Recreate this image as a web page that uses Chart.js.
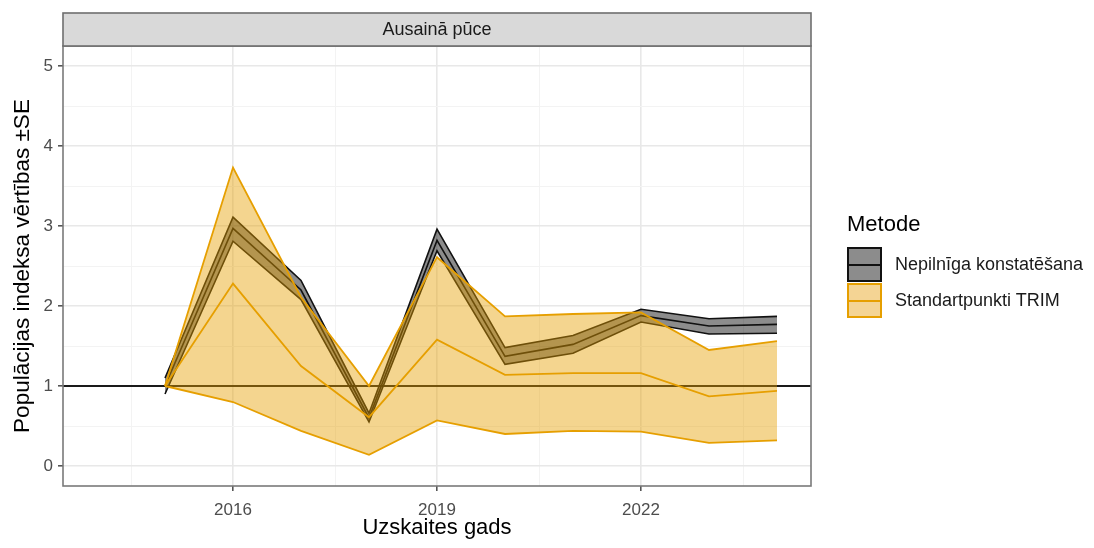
<!DOCTYPE html>
<html>
<head>
<meta charset="utf-8">
<script src="https://cdn.jsdelivr.net/npm/chart.js@4.4.1/dist/chart.umd.min.js"></script>
<style>
  html, body { margin: 0; padding: 0; background: #fff; }
  #wrap { position: relative; width: 1094px; height: 548px; font-family: "Liberation Sans", Arial, sans-serif; }
  #c { position: absolute; left: 0; top: 0; }
  .lg-title { position: absolute; left: 847px; top: 211px; font-size: 22px; line-height: 26px; color: #000; }
  .lg-key { position: absolute; left: 847px; width: 35px; height: 35px; box-sizing: border-box; }
  .lg-key .mid { position: absolute; left: 0; right: 0; top: 50%; height: 0; margin-top: -1px; }
  .lg-label { position: absolute; left: 895px; font-size: 18px; line-height: 22px; color: #1a1a1a; white-space: nowrap; }
</style>
</head>
<body>
<div id="wrap">
  <canvas id="c" width="1094" height="548"></canvas>
  <div class="lg-title">Metode</div>
  <div class="lg-key" style="top:247px;background:#8c8c8c;border:2px solid #111;"><div class="mid" style="border-top:2px solid #111;"></div></div>
  <div class="lg-label" style="top:253px;">Nepilnīga konstatēšana</div>
  <div class="lg-key" style="top:283px;background:#f4d494;border:2px solid #e69f00;"><div class="mid" style="border-top:2px solid #e69f00;"></div></div>
  <div class="lg-label" style="top:289px;">Standartpunkti TRIM</div>
</div>
<script>
// Survey years
const years = [2015, 2016, 2017, 2018, 2019, 2020, 2021, 2022, 2023, 2024];

// Index ±SE, method "Nepilnīga konstatēšana"
const nepMid   = [1.00, 2.97, 2.20, 0.60, 2.82, 1.37, 1.52, 1.88, 1.75, 1.77];
const nepLower = [0.90, 2.81, 2.08, 0.55, 2.69, 1.27, 1.41, 1.80, 1.65, 1.66];
const nepUpper = [1.10, 3.11, 2.32, 0.66, 2.96, 1.48, 1.63, 1.96, 1.84, 1.87];

// Index ±SE, method "Standartpunkti TRIM"
const trimMid   = [1.00, 2.28, 1.25, 0.61, 1.58, 1.14, 1.16, 1.16, 0.87, 0.94];
const trimLower = [1.00, 0.80, 0.44, 0.14, 0.57, 0.40, 0.44, 0.43, 0.29, 0.32];
const trimUpper = [1.00, 3.73, 2.11, 1.00, 2.61, 1.87, 1.90, 1.92, 1.45, 1.56];

// Axis breaks
const xBreaks = [2016, 2019, 2022];
const yBreaks = [0, 1, 2, 3, 4, 5];
const baseline = 1;

const xMin = 2013.5, xMax = 2024.5;
const yMin = -0.25, yMax = 5.25;

const pts = (vals) => years.map((y, i) => ({ x: y, y: vals[i] }));

// minor grid positions halfway between breaks
const xStep = xBreaks[1] - xBreaks[0];
const xMinor = [xBreaks[0] - xStep / 2];
xBreaks.forEach(b => xMinor.push(b + xStep / 2));
const yMinor = [];
for (let i = 0; i < yBreaks.length - 1; i++) yMinor.push((yBreaks[i] + yBreaks[i + 1]) / 2);

const isMajorX = v => xBreaks.some(b => Math.abs(b - v) < 1e-6);
const isMajorY = v => yBreaks.some(b => Math.abs(b - v) < 1e-6);

const ORANGE = '#e69f00';
const ORANGE_FILL = 'rgba(230,159,0,0.44)';
const BLACK = '#111111';
const GREY_FILL = 'rgba(0,0,0,0.45)';

const lineBase = { pointRadius: 0, pointHoverRadius: 0, tension: 0, fill: false };

const datasets = [
  // TRIM (top layer)
  { ...lineBase, label: 'Standartpunkti TRIM', data: pts(trimMid), borderColor: ORANGE, borderWidth: 1.8, order: 1 },
  { ...lineBase, label: 'TRIM upper', data: pts(trimUpper), borderColor: ORANGE, borderWidth: 1.8, order: 1 },
  { ...lineBase, label: 'TRIM lower', data: pts(trimLower), borderColor: ORANGE, borderWidth: 1.8, order: 1,
    fill: { target: 1 }, backgroundColor: ORANGE_FILL },
  // Nepilnīga konstatēšana (middle layer)
  { ...lineBase, label: 'Nepilnīga konstatēšana', data: pts(nepMid), borderColor: BLACK, borderWidth: 1.6, order: 2 },
  { ...lineBase, label: 'Nep upper', data: pts(nepUpper), borderColor: BLACK, borderWidth: 1.6, order: 2 },
  { ...lineBase, label: 'Nep lower', data: pts(nepLower), borderColor: BLACK, borderWidth: 1.6, order: 2,
    fill: { target: 4 }, backgroundColor: GREY_FILL },
  // reference line at index = 1 (bottom layer)
  { ...lineBase, label: 'baseline', data: [{ x: xMin, y: baseline }, { x: xMax, y: baseline }],
    borderColor: '#1a1a1a', borderWidth: 1.8, order: 3 }
];

const FONT = '"Liberation Sans", Arial, sans-serif';

// facet strip above the panel and the panel border
const panelPlugin = {
  id: 'panel',
  afterDraw(chart) {
    const { ctx, chartArea: a } = chart;
    ctx.save();
    // panel frame
    ctx.strokeStyle = '#7a7a7a';
    ctx.lineWidth = 1.6;
    ctx.strokeRect(a.left, a.top, a.right - a.left, a.bottom - a.top);
    // strip
    const sTop = 13, sH = a.top - sTop;
    ctx.fillStyle = '#d9d9d9';
    ctx.fillRect(a.left, sTop, a.right - a.left, sH);
    ctx.strokeStyle = '#6e6e6e';
    ctx.lineWidth = 1.6;
    ctx.strokeRect(a.left, sTop, a.right - a.left, sH);
    ctx.fillStyle = '#1a1a1a';
    ctx.font = '18px ' + FONT;
    ctx.textAlign = 'center';
    ctx.textBaseline = 'middle';
    ctx.fillText('Ausainā pūce', (a.left + a.right) / 2, sTop + sH / 2 + 1);
    ctx.restore();
  }
};

new Chart(document.getElementById('c'), {
  type: 'line',
  data: { datasets },
  plugins: [panelPlugin],
  options: {
    responsive: false,
    devicePixelRatio: 1,
    animation: false,
    events: [],
    layout: { padding: { left: 0, top: 46, right: 283, bottom: 0 } },
    plugins: {
      legend: { display: false },
      tooltip: { enabled: false },
      filler: { propagate: false }
    },
    scales: {
      x: {
        type: 'linear',
        min: xMin, max: xMax,
        afterBuildTicks(scale) {
          scale.ticks = [...xMinor, ...xBreaks].sort((a, b) => a - b).map(v => ({ value: v }));
        },
        afterFit(scale) { scale.height = 62; },
        ticks: {
          autoSkip: false, maxRotation: 0, padding: 9,
          color: '#4d4d4d', font: { family: FONT, size: 17 },
          callback: v => isMajorX(v) ? String(v) : ''
        },
        grid: {
          drawTicks: true, tickLength: 5,
          color: c => isMajorX(c.tick.value) ? '#e8e8e8' : '#f3f3f3',
          lineWidth: c => isMajorX(c.tick.value) ? 1.6 : 1,
          tickColor: c => isMajorX(c.tick.value) ? '#555555' : 'rgba(0,0,0,0)',
          tickWidth: 1.6
        },
        border: { display: false },
        title: {
          display: true, text: 'Uzskaites gads', color: '#000',
          font: { family: FONT, size: 22 }, padding: { top: 0, bottom: 7 }
        }
      },
      y: {
        type: 'linear',
        min: yMin, max: yMax,
        afterBuildTicks(scale) {
          scale.ticks = [...yMinor, ...yBreaks].sort((a, b) => a - b).map(v => ({ value: v }));
        },
        afterFit(scale) { scale.width = 63; },
        ticks: {
          autoSkip: false, padding: 5,
          color: '#4d4d4d', font: { family: FONT, size: 17 },
          callback: v => isMajorY(v) ? String(v) : ''
        },
        grid: {
          drawTicks: true, tickLength: 5,
          color: c => isMajorY(c.tick.value) ? '#e8e8e8' : '#f3f3f3',
          lineWidth: c => isMajorY(c.tick.value) ? 1.6 : 1,
          tickColor: c => isMajorY(c.tick.value) ? '#555555' : 'rgba(0,0,0,0)',
          tickWidth: 1.6
        },
        border: { display: false },
        title: {
          display: true, text: 'Populācijas indeksa vērtības ±SE', color: '#000',
          font: { family: FONT, size: 22.5 }, padding: { top: 9, bottom: 0 }
        }
      }
    }
  }
});
</script>
</body>
</html>
